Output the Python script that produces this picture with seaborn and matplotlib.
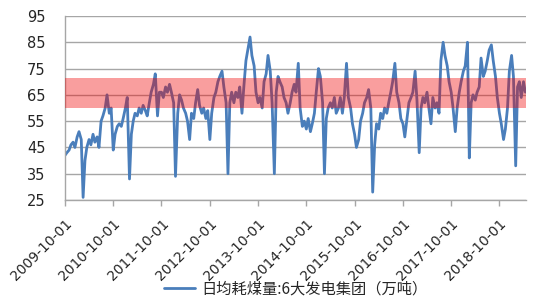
import matplotlib
matplotlib.use('Agg')
import matplotlib.pyplot as plt
from matplotlib.font_manager import FontProperties
import seaborn as sns
import pandas as pd

# Semi-monthly readings (1st and 15th of each month), starting 2009-10-01
s2009 = [42, 43, 44, 46, 47, 45, 49, 51, 48, 26, 40, 45, 48, 46, 50, 47, 49, 45, 55, 57, 60, 65, 58, 60]
s2010 = [44, 50, 53, 54, 53, 56, 60, 64, 33, 50, 55, 58, 57, 60, 58, 61, 59, 57, 62, 66, 69, 73, 57, 66]
s2011 = [66, 64, 68, 66, 69, 66, 62, 34, 58, 65, 63, 60, 58, 55, 48, 58, 56, 62, 67, 61, 58, 60, 56, 59]
s2012 = [48, 58, 64, 66, 70, 72, 74, 68, 62, 35, 62, 66, 62, 66, 64, 68, 58, 68, 78, 82, 87, 80, 76, 66]
s2013 = [62, 64, 60, 70, 73, 80, 74, 62, 35, 66, 72, 70, 68, 64, 62, 58, 62, 66, 69, 66, 77, 60, 53, 55]
s2014 = [52, 56, 51, 54, 58, 66, 75, 72, 62, 35, 56, 60, 62, 60, 64, 58, 60, 64, 58, 64, 77, 64, 60, 54]
s2015 = [50, 45, 48, 55, 58, 62, 64, 67, 60, 28, 46, 54, 52, 58, 56, 60, 58, 62, 66, 70, 77, 66, 62, 56]
s2016 = [54, 49, 56, 62, 64, 66, 74, 63, 43, 60, 64, 62, 66, 60, 54, 64, 60, 62, 58, 78, 85, 80, 76, 70]
s2017 = [66, 60, 51, 60, 66, 70, 74, 76, 85, 41, 62, 65, 63, 66, 68, 79, 72, 74, 78, 82, 84, 78, 72, 64]
s2018 = [58, 54, 48, 52, 60, 74, 80, 72, 38, 68, 70, 64, 70, 66]

start_date = '2009-10-01'
band_low, band_high = 60, 71.3
y_ticks = [25, 35, 45, 55, 65, 75, 85, 95]
tick_dates = ['2009-10-01', '2010-10-01', '2011-10-01', '2012-10-01', '2013-10-01',
              '2014-10-01', '2015-10-01', '2016-10-01', '2017-10-01', '2018-10-01']
series_name = '日均耗煤量:6大发电集团（万吨）'

values = s2009 + s2010 + s2011 + s2012 + s2013 + s2014 + s2015 + s2016 + s2017 + s2018
dates = pd.date_range(start_date, periods=len(values), freq='SMS')
df = pd.DataFrame({'date': dates, 'value': values})

sns.set_theme(style='white')
plt.rcParams['font.family'] = ['DejaVu Sans']

fig = plt.figure(figsize=(5.5, 3.06), dpi=100)
ax = fig.add_axes([65 / 550, 1 - 200 / 306, (526 - 65) / 550, (200 - 16) / 306])

sns.lineplot(data=df, x='date', y='value', ax=ax, color='#4A7EBB', linewidth=2.0,
             label=series_name, legend=False, zorder=2)
ax.axhspan(band_low, band_high, color='#F00000', alpha=0.38, lw=0, zorder=3)

ax.set_ylim(25, 95)
ax.set_yticks(y_ticks)
ax.set_xlim(pd.Timestamp(start_date), pd.Timestamp('2019-04-20'))
ax.set_xticks(pd.to_datetime(tick_dates))
ax.set_xticklabels(tick_dates, rotation=45, ha='right', rotation_mode='anchor')
ax.set_xlabel('')
ax.set_ylabel('')

ax.yaxis.grid(True, color='#A6A6A6', lw=1, zorder=0)
ax.xaxis.grid(False)
for s in ['top', 'right']:
    ax.spines[s].set_visible(False)
for s in ['left', 'bottom']:
    ax.spines[s].set_color('#A6A6A6')
    ax.spines[s].set_linewidth(1)

ax.tick_params(axis='x', direction='out', length=4, color='#A6A6A6', width=1,
               labelsize=10, labelcolor='#262626', pad=8, bottom=True)
ax.tick_params(axis='y', length=0, labelsize=10.5, labelcolor='#262626', pad=14)

handles, labels = ax.get_legend_handles_labels()
fig.legend(handles, labels, loc='center', bbox_to_anchor=(0.538, 0.057), frameon=False,
           prop=FontProperties(family=['Noto Sans CJK SC', 'DejaVu Sans'], size=11),
           handlelength=2.0, handletextpad=0.4)

fig.savefig('out.png', dpi=100)
